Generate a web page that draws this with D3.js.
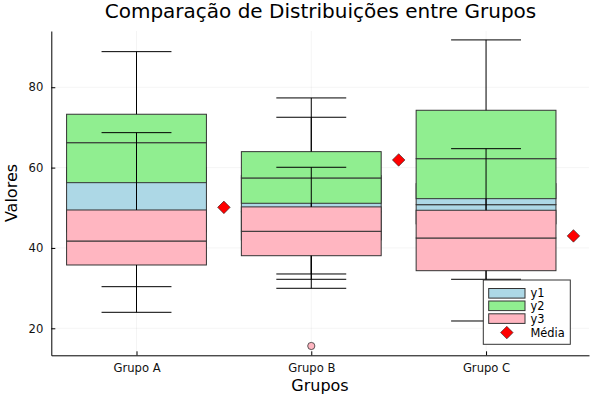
<!DOCTYPE html>
<html>
<head>
<meta charset="utf-8">
<script src="https://cdn.jsdelivr.net/npm/d3@7"></script>
<style>
  body { margin: 0; background: #fff; }
  svg { font-family: "DejaVu Sans", sans-serif; }
</style>
</head>
<body>
<div id="chart"></div>
<script>
// box plot data
const groups = ["Grupo A", "Grupo B", "Grupo C"];
const boxPositions = [0.5, 1.5, 2.5];
const meanPositions = [1, 2, 3];

// [lower whisker, Q1, median, Q3, upper whisker] per group
const y1Stats = [
  [37.0, 44.0, 47.0, 60.0, 70.0],
  [29.96, 42.0, 49.0, 58.0, 72.53],
  [38.0, 46.0, 50.77, 56.0, 70.0],
];
const y2Stats = [
  [23.98, 56.25, 66.2, 73.28, 88.86],
  [33.52, 51.12, 57.42, 63.97, 77.34],
  [21.82, 52.27, 62.22, 74.27, 91.78],
];
const y3Stats = [
  [30.36, 35.76, 41.73, 49.45, 68.7],
  [32.2, 38.07, 44.15, 50.22, 60.08],
  [32.2, 34.34, 42.48, 49.38, 64.71],
];
const y3Outliers = [[], [15.6], []];
const means = [50.1, 61.9, 43.0];

const seriesNames = ["y1", "y2", "y3"];
const seriesColors = ["#add8e6", "#90ee90", "#ffb6c1"];
const yTicks = [20, 40, 60, 80];

const W = 600, H = 400;
const boxWidth = 0.8;

const svg = d3
  .select("#chart")
  .append("svg")
  .attr("width", W)
  .attr("height", H);

const x = d3.scaleLinear().domain([0.0125, 3.089]).range([51.3, 589]);
const y = d3.scaleLinear().domain([13.28, 94.0]).range([355.3, 31]);

// grid
const grid = svg.append("g").attr("class", "grid");
grid
  .selectAll("line.gx")
  .data(boxPositions)
  .enter()
  .append("line")
  .attr("x1", (d) => x(d))
  .attr("x2", (d) => x(d))
  .attr("y1", y.range()[1])
  .attr("y2", y.range()[0])
  .attr("stroke", "#000")
  .attr("stroke-opacity", 0.08)
  .attr("stroke-width", 0.6);
grid
  .selectAll("line.gy")
  .data(yTicks)
  .enter()
  .append("line")
  .attr("x1", x.range()[0])
  .attr("x2", x.range()[1])
  .attr("y1", (d) => y(d))
  .attr("y2", (d) => y(d))
  .attr("stroke", "#000")
  .attr("stroke-opacity", 0.08)
  .attr("stroke-width", 0.6);

const plot = svg.append("g").attr("class", "plot");

function drawSeries(stats, color, outliers) {
  const g = plot.append("g");
  stats.forEach((s, i) => {
    const [lw, q1, med, q3, uw] = s;
    const c = boxPositions[i];
    const x0 = x(c - boxWidth / 2);
    const x1 = x(c + boxWidth / 2);

    // box: two halves split at the median
    [[q1, med], [med, q3]].forEach(([lo, hi]) => {
      g.append("rect")
        .attr("x", x0)
        .attr("y", y(hi))
        .attr("width", x1 - x0)
        .attr("height", y(lo) - y(hi))
        .attr("fill", color)
        .attr("stroke", "#333")
        .attr("stroke-width", 1);
    });

    // whiskers
    const cx = x(c);
    const cap0 = x(c - boxWidth / 4);
    const cap1 = x(c + boxWidth / 4);
    [[q3, uw], [q1, lw]].forEach(([from, to]) => {
      g.append("line")
        .attr("x1", cx)
        .attr("x2", cx)
        .attr("y1", y(from))
        .attr("y2", y(to))
        .attr("stroke", "#000")
        .attr("stroke-width", 1);
      g.append("line")
        .attr("x1", cap0)
        .attr("x2", cap1)
        .attr("y1", y(to))
        .attr("y2", y(to))
        .attr("stroke", "#000")
        .attr("stroke-width", 1);
    });
  });

  if (outliers) {
    outliers.forEach((vals, i) => {
      vals.forEach((v) => {
        g.append("circle")
          .attr("cx", x(boxPositions[i]))
          .attr("cy", y(v))
          .attr("r", 3.6)
          .attr("fill", color)
          .attr("stroke", "#333")
          .attr("stroke-width", 0.8);
      });
    });
  }
}

drawSeries(y1Stats, seriesColors[0]);
drawSeries(y2Stats, seriesColors[1]);
drawSeries(y3Stats, seriesColors[2], y3Outliers);

const diamond = d3.symbol().type(d3.symbolDiamond2).size(100);

plot
  .selectAll("path.mean")
  .data(means)
  .enter()
  .append("path")
  .attr("class", "mean")
  .attr("d", diamond)
  .attr("transform", (d, i) => `translate(${x(meanPositions[i])},${y(d)})`)
  .attr("fill", "#ff0000")
  .attr("stroke", "#222")
  .attr("stroke-width", 0.6);

// axes
const xAxis = svg
  .append("g")
  .attr("transform", `translate(0,${y.range()[0]})`)
  .call(
    d3
      .axisBottom(x)
      .tickValues(boxPositions)
      .tickFormat((d, i) => groups[i])
      .tickSizeInner(-4)
      .tickSizeOuter(0)
      .tickPadding(8.5)
  );
const yAxis = svg
  .append("g")
  .attr("transform", `translate(${x.range()[0]},0)`)
  .call(
    d3
      .axisLeft(y)
      .tickValues(yTicks)
      .tickSizeInner(-4)
      .tickSizeOuter(0)
      .tickPadding(8)
  );
[xAxis, yAxis].forEach((a) => {
  a.select(".domain").attr("stroke", "#000").attr("stroke-width", 1);
  a.selectAll(".tick line").attr("stroke", "#000");
  a.selectAll(".tick text")
    .attr("fill", "#111")
    .style("font-size", "11.6px")
    .style("font-family", "DejaVu Sans");
});

// titles
svg
  .append("text")
  .attr("x", 320.5)
  .attr("y", 18.3)
  .attr("text-anchor", "middle")
  .style("font-size", "20px")
  .attr("fill", "#000")
  .text("Comparação de Distribuições entre Grupos");

svg
  .append("text")
  .attr("x", 320)
  .attr("y", 391)
  .attr("text-anchor", "middle")
  .style("font-size", "16px")
  .text("Grupos");

svg
  .append("text")
  .attr("transform", "translate(17,193) rotate(-90)")
  .attr("text-anchor", "middle")
  .style("font-size", "16px")
  .text("Valores");

// legend
const legend = svg.append("g").attr("class", "legend");
legend
  .append("rect")
  .attr("x", 483.3)
  .attr("y", 280)
  .attr("width", 87)
  .attr("height", 64.3)
  .attr("fill", "#fff")
  .attr("stroke", "#333")
  .attr("stroke-width", 1);

const rowY = [293.3, 305.8, 318.6, 332.6];
seriesNames.forEach((name, i) => {
  legend
    .append("rect")
    .attr("x", 488.7)
    .attr("y", rowY[i] - 4.8)
    .attr("width", 36.3)
    .attr("height", 9.6)
    .attr("fill", seriesColors[i])
    .attr("stroke", "#333")
    .attr("stroke-width", 1);
  legend
    .append("text")
    .attr("x", 530.5)
    .attr("y", rowY[i] + 4)
    .style("font-size", "11.4px")
    .text(name);
});
legend
  .append("path")
  .attr("d", diamond)
  .attr("transform", `translate(506.8,${rowY[3]})`)
  .attr("fill", "#ff0000")
  .attr("stroke", "#222")
  .attr("stroke-width", 0.6);
legend
  .append("text")
  .attr("x", 530.5)
  .attr("y", rowY[3] + 4)
  .style("font-size", "11.4px")
  .text("Média");
</script>
</body>
</html>
